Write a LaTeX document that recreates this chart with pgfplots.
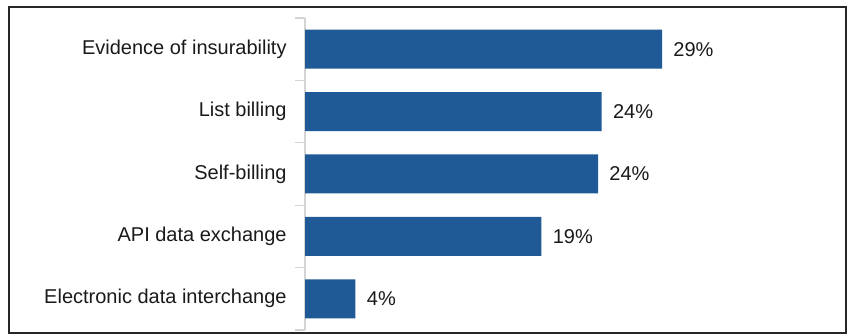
\documentclass[border=0pt]{standalone}
\usepackage{fontspec}
\setmainfont{Liberation Sans}
\usepackage{pgfplots}
\pgfplotsset{compat=1.18}
\definecolor{barblue}{HTML}{1F5A96}
\definecolor{axgray}{HTML}{D4D4D4}
\definecolor{txt}{HTML}{1A1A1A}
\begin{document}
\begin{tikzpicture}
\useasboundingbox (0,0) rectangle (424.5pt,167.5pt);
\draw[line width=0.7pt, black!85] (4.5pt,1pt) rectangle (423pt,164pt);
\begin{axis}[
  at={(152.5pt,2.5pt)}, anchor=south west,
  scale only axis,
  width=264.7pt, height=156pt,
  xbar, bar width=19.5pt,
  xmin=0, xmax=43,
  ymin=-0.5, ymax=4.5,
  axis y line=left, axis x line=none,
  axis line style={-, draw=axgray, line width=0.6pt},
  xtick=\empty,
  ytick={0,1,2,3,4},
  yticklabels={Electronic data interchange, API data exchange, Self-billing, List billing, Evidence of insurability},
  minor ytick={-0.5,0.5,1.5,2.5,3.5,4.5},
  major tick length=0pt,
  minor tick length=5pt,
  tick align=outside,
  every tick/.style={draw=axgray, line width=0.6pt},
  yticklabel style={inner sep=0pt, xshift=-9pt, font=\fontsize{10}{12}\selectfont, text=txt},
  point meta=explicit symbolic,
  nodes near coords,
  every node near coord/.append style={anchor=west, inner sep=0pt, xshift=5.5pt, font=\fontsize{10}{12}\selectfont, text=txt},
  clip=false,
]
\addplot[fill=barblue, draw=none] coordinates {
  (4.1,0)[4\%]
  (19.2,1)[19\%]
  (23.8,2)[24\%]
  (24.1,3)[24\%]
  (29,4)[29\%]
};
\end{axis}
\end{tikzpicture}
\end{document}
